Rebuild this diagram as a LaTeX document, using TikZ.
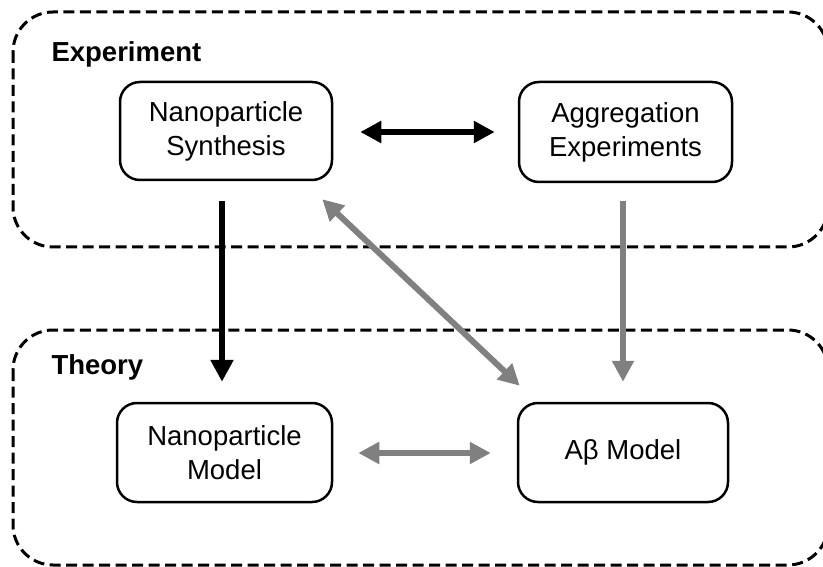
\documentclass[tikz,border=0pt]{standalone}
\usepackage{fontspec}
\setmainfont{Liberation Sans}
\usetikzlibrary{arrows.meta,calc}
\definecolor{arrgray}{RGB}{128,128,128}
\tikzset{
  group/.style={draw=black, line width=3pt, dash pattern=on 11pt off 5.5pt, rounded corners=40pt},
  box/.style={draw=black, line width=2.5pt, rounded corners=20pt, align=center,
    font=\fontsize{27.5}{34}\selectfont, inner sep=0pt},
  grouplabel/.style={anchor=base west, font=\fontsize{27.5}{33}\selectfont\bfseries},
  blkarrow/.style={draw=black, line width=6.5pt, -{Triangle[length=22pt,width=22pt]}},
  blkdouble/.style={draw=black, line width=6pt, {Triangle[length=21pt,width=21pt]}-{Triangle[length=21pt,width=21pt]}},
  grayarrow/.style={draw=arrgray, line width=6pt, -{Triangle[length=21pt,width=21pt]}},
  graydouble/.style={draw=arrgray, line width=6pt, {Triangle[length=21pt,width=21pt]}-{Triangle[length=21pt,width=21pt]}}
}
\begin{document}
\begin{tikzpicture}[x=1pt,y=-1pt]
\useasboundingbox (0,0) rectangle (823,567);
\clip (0,0) rectangle (823,567);
\draw[group] (13,12) rectangle (828,247);
\draw[group] (13,330) rectangle (828,565);
\node[grouplabel] (lexp) at (48,61.5) {Experiment};
\node[grouplabel] (lthe) at (48,374) {Theory};
\node[box, minimum width=212pt, minimum height=98pt] (NS) at (226,131) {Nanoparticle\\Synthesis};
\node[box, minimum width=213pt, minimum height=100pt] (AE) at (625.5,132) {Aggregation\\Experiments};
\node[box, minimum width=215pt, minimum height=99pt] (NM) at (224.5,452.5) {Nanoparticle\\Model};
\node[box, minimum width=210pt, minimum height=99pt] (AM) at (623,452.5) {Aβ Model};
\draw[blkdouble, shorten <=27pt, shorten >=23pt] (NS.east |- 0,132) -- (AE.west |- 0,132);
\draw[blkarrow, shorten <=20pt, shorten >=20pt] ([xshift=-4pt]NS.south) -- ([xshift=-2.5pt]NM.north);
\draw[grayarrow, shorten <=18pt, shorten >=20pt] ([xshift=-2.5pt]AE.south) -- (AM.north);
\draw[graydouble] ($(NS.south east)+(-11,18)$) -- ($(AM.north west)+(3,-16)$);
\draw[graydouble, shorten <=25pt, shorten >=26pt] (NM.east |- 0,453) -- (AM.west |- 0,453);
\end{tikzpicture}
\end{document}
